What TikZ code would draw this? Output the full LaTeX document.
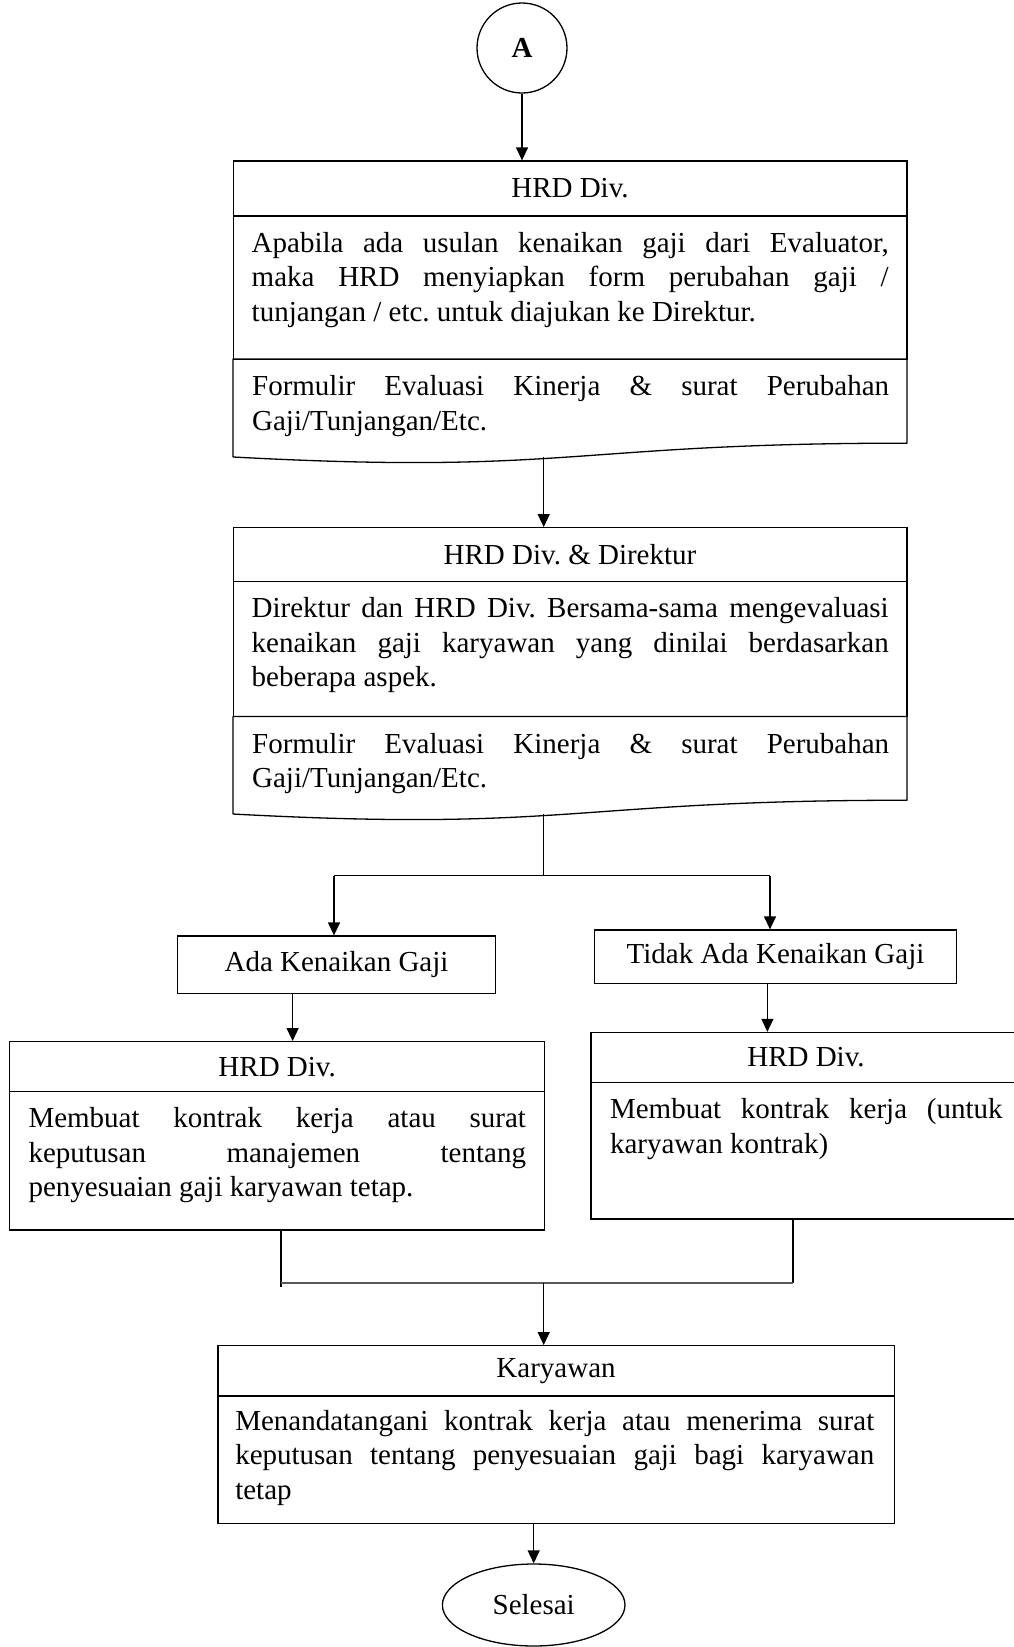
\documentclass[tikz,border=0pt]{standalone}
\usepackage{fontspec}
\setmainfont{Liberation Serif}
\usetikzlibrary{arrows.meta,calc,shapes.geometric}
\newcommand\mynohyph{\hyphenpenalty=10000 \exhyphenpenalty=10000 \tolerance=10000 \hbadness=10000 \frenchspacing\relax}
\begin{document}
\frenchspacing
\begin{tikzpicture}[x=1pt,y=-1pt,
  every node/.style={font=\fontsize{29}{34.5}\selectfont\frenchspacing},
  bx/.style={draw, line width=1.3pt, rectangle, inner sep=0pt},
  ghost/.style={rectangle, inner sep=0pt},
  txt/.style={anchor=north west, inner sep=0pt, align=justify,
    font=\fontsize{29}{34.5}\selectfont\mynohyph},
  ln/.style={line width=1.3pt},
  arr/.style={line width=1.3pt, -{Triangle[length=13pt,width=12pt]}},
  docline/.style={line width=1.3pt, line join=round}
]
\useasboundingbox (0,0) rectangle (1013,1647);
\fill[white] (0,0) rectangle (1013,1647);

% start connector
\node[circle, draw, line width=1.3pt, minimum size=90pt, inner sep=0pt] (A) at (522,48) {\textbf{A}};

% block 1
\node[bx, minimum width=673.7pt, minimum height=55pt] (h1) at (570,188.5) {HRD Div.};
\node[bx, minimum width=673.7pt, minimum height=143.3pt] (b1) at (570,287.65) {};
\node[txt, text width=637pt] (b1t) at ([xshift=19pt,yshift=-12.5pt]b1.north west)
  {\strut Apabila ada usulan kenaikan gaji dari Evaluator,\linebreak maka HRD menyiapkan form perubahan gaji /\linebreak tunjangan / etc. untuk diajukan ke Direktur.};
\node[ghost, minimum width=673.7pt, minimum height=104.4pt] (d1) at (570,411.5) {};
\draw[docline] (d1.north west) -- (d1.north east) -- ($(d1.north east)!0.802!(d1.south east)$)
  .. controls ($(d1.north)!0.802!(d1.south)$) and ($(d1.north)!1.1075!(d1.south)$) .. ($(d1.north west)!0.934!(d1.south west)$) -- cycle;
\node[txt, text width=637pt] (d1t) at ([xshift=19pt,yshift=-12.5pt]d1.north west)
  {\strut Formulir Evaluasi Kinerja \& surat Perubahan\linebreak Gaji/Tunjangan/Etc.};

% block 2
\node[bx, minimum width=673.7pt, minimum height=54pt] (h2) at (570,554.7) {HRD Div. \& Direktur};
\node[bx, minimum width=673.7pt, minimum height=135pt] (b2) at (570,649.2) {};
\node[txt, text width=637pt] (b2t) at ([xshift=19pt,yshift=-12.5pt]b2.north west)
  {\strut Direktur dan HRD Div. Bersama-sama mengevaluasi\linebreak kenaikan gaji karyawan yang dinilai berdasarkan\linebreak beberapa aspek.};
\node[ghost, minimum width=673.7pt, minimum height=104pt] (d2) at (570,768.7) {};
\draw[docline] (d2.north west) -- (d2.north east) -- ($(d2.north east)!0.802!(d2.south east)$)
  .. controls ($(d2.north)!0.802!(d2.south)$) and ($(d2.north)!1.1075!(d2.south)$) .. ($(d2.north west)!0.934!(d2.south west)$) -- cycle;
\node[txt, text width=637pt] (d2t) at ([xshift=19pt,yshift=-12.5pt]d2.north west)
  {\strut Formulir Evaluasi Kinerja \& surat Perubahan\linebreak Gaji/Tunjangan/Etc.};

% decision outcomes
\node[bx, minimum width=318pt, minimum height=57.3pt] (ada) at (336.5,964.65) {Ada Kenaikan Gaji};
\node[bx, minimum width=362.4pt, minimum height=53.3pt] (tidak) at (775.5,956.65) {Tidak Ada Kenaikan Gaji};

% left HRD
\node[bx, minimum width=535pt, minimum height=50pt] (hL) at (277.15,1066.7) {HRD Div.};
\node[bx, minimum width=535pt, minimum height=138.3pt] (bL) at (277.15,1160.85) {};
\node[txt, text width=497.5pt] (bLt) at ([xshift=19.3pt,yshift=-12.5pt]bL.north west)
  {\strut Membuat kontrak kerja atau surat\linebreak keputusan manajemen tentang\linebreak penyesuaian gaji karyawan tetap.};

% right HRD
\node[bx, minimum width=430pt, minimum height=50pt] (hR) at (806,1057.5) {HRD Div.};
\node[bx, minimum width=430pt, minimum height=136.5pt] (bR) at (806,1150.75) {};
\node[txt, text width=392.5pt] (bRt) at ([xshift=19.5pt,yshift=-12.5pt]bR.north west)
  {\strut Membuat kontrak kerja (untuk\linebreak karyawan kontrak)};

% Karyawan
\node[bx, minimum width=676.3pt, minimum height=50.3pt] (kh) at (556.05,1370.85) {Karyawan};
\node[bx, minimum width=676.3pt, minimum height=127.3pt] (kb) at (556.05,1459.65) {};
\node[txt, text width=639pt] (kbt) at ([xshift=17.8pt,yshift=-10.5pt]kb.north west)
  {\strut Menandatangani kontrak kerja atau menerima surat\linebreak keputusan tentang penyesuaian gaji bagi karyawan\linebreak tetap};

% end
\node[ellipse, draw, line width=1.3pt, minimum width=182.6pt, minimum height=82pt, inner sep=0pt] (sel) at (533.7,1605) {Selesai};

% connectors
\draw[arr] (A.south) -- (A.south |- h1.north);
\coordinate (c1) at (543.7,457.4);
\draw[arr] (c1) -- (c1 |- h2.north);
\coordinate (c2) at (543.7,814.4);
\coordinate (brC) at (543.7,875.5);
\coordinate (brL) at (334,875.5);
\coordinate (brR) at (770,875.5);
\draw[ln] (c2) -- (brC);
\draw[ln] (brL) -- (brR);
\draw[arr] (brL) -- (brL |- ada.north);
\draw[arr] (brR) -- (brR |- tidak.north);
\coordinate (c3) at (292.6,0);
\draw[arr] (ada.south -| c3) -- (c3 |- hL.north);
\coordinate (c4) at (767.4,0);
\draw[arr] (tidak.south -| c4) -- (c4 |- hR.north);
\coordinate (mL) at (281,1283.3);
\coordinate (mR) at (793,1283.3);
\coordinate (mC) at (543.7,1283.3);
\draw[ln] (bL.south -| mL) -- ([yshift=-4pt]mL);
\draw[ln] (bR.south -| mR) -- (mR);
\draw[line width=2pt, black!65] (mL) -- (mR);
\draw[arr] (mC) -- (mC |- kh.north);
\draw[arr] (kb.south -| sel.north) -- (sel.north);
\end{tikzpicture}
\end{document}
